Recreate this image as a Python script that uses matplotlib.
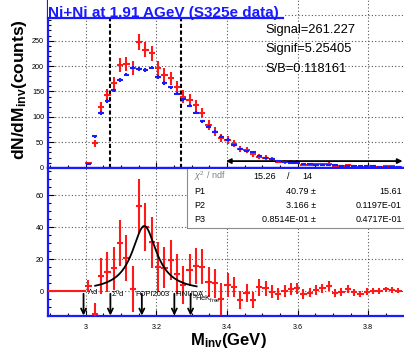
import numpy as np
import matplotlib.pyplot as plt
from matplotlib.lines import Line2D
from matplotlib.patches import Rectangle

plt.rcParams['font.family'] = ['Liberation Sans', 'DejaVu Sans']
plt.rcParams['mathtext.fontset'] = 'custom'
plt.rcParams['mathtext.rm'] = 'Liberation Sans'
plt.rcParams['mathtext.it'] = 'Liberation Sans:italic'
plt.rcParams['mathtext.bf'] = 'Liberation Sans:bold'

# binning (GeV)
bin_start = 2.999
bin_width = 0.0179
n_bins = 50

# upper panel: same-event (red) and mixed-event background (blue)
red = [8.6, 48, 119, 143, 166, 202, 204, 196, 248, 232,
       225, 196, 183, 176, 158, 140, 133, 123, 107, 84,
       71, 58, 55, 47, 36, 34, 26, 22, 20, 17,
       12, 11, 11, 11, 6, 6, 7, 7, 8, 3.5,
       4, 5, 3, 1.5, 2.5, 2.7, 2.3, 3.2, 2.8, 2.2]
red_err = [3, 7, 11, 12, 13, 14, 14, 14, 16, 15,
           15, 14, 13.5, 13, 12.5, 12, 11.5, 11, 10, 9,
           8.5, 7.5, 7.4, 6.8, 6, 5.8, 5.1, 4.7, 4.4, 4.1,
           3.4, 3.3, 3.4, 3.3, 2.4, 2.4, 2.6, 2.7, 2.9, 1.8,
           2, 2.2, 1.6, 1.1, 1.6, 1.6, 1.5, 1.8, 1.7, 1.5]
blue = [7.9, 62, 108, 131, 152, 173, 183, 197, 194, 192,
        197, 179, 167, 158, 146, 135, 122, 108, 91, 81,
        71, 61, 55, 45, 36, 33, 30, 23, 20, 17,
        13, 11, 10, 9, 7.5, 6.5, 6, 5.5, 5, 4.5,
        4, 3.5, 3.2, 3, 2.7, 2.5, 2.3, 2, 2, 1.8]
blue_err = [1.5, 3, 3.5, 3.5, 3.5, 3.5, 3.5, 3.5, 3.5, 3.5,
            3.5, 3.5, 3.5, 3.5, 3, 3, 3, 3, 3, 3,
            2.5, 2.5, 2.5, 2.5, 2, 2, 2, 2, 2, 2,
            1.5, 1.5, 1.5, 1.5, 1.5, 1.5, 1.5, 1.5, 1.5, 1.5,
            1, 1, 1, 1, 1, 1, 1, 1, 1, 1]

# lower panel: background-subtracted signal
signal = [3.5, -14, 9.6, 12, 14.4, 30, 20.8, 1.4, 53.3, 40.4,
          30.6, 15, 14.8, 19.6, 11, 4, 13.3, 15.8, 15.4, 6,
          5, -5, 4, 2.9, -5.4, -0.9, -5.4, 2.5, 1.9, -0.2,
          -1.7, 0.2, 1.4, 1.9, -1.7, -0.8, 0.8, 1.9, 3.3, -1.2,
          -0.2, 1.4, -0.6, -1.7, -0.2, 0.2, 0, 1.2, 0.8, 0.4]
signal_err = [3.6, 6.5, 11, 12.7, 13.5, 14.4, 14.6, 14.3, 16.7, 15,
              16, 15.6, 13, 12.5, 12.5, 12, 10, 11, 11, 9.4,
              8.9, 10, 7.3, 6.3, 5.7, 5.7, 4.7, 5.2, 4.7, 4.2,
              3.6, 3.6, 3.6, 3.6, 3.1, 3, 3, 3, 2.9, 2.5,
              2.5, 2.5, 2.3, 2, 2, 1.8, 1.8, 1.8, 1.7, 1.6]

# fit result (Breit-Wigner)
fit_p1, fit_p2, fit_p3 = 40.79, 3.166, 0.08514
fit_range = (3.027, 3.314)

# markers for predicted masses
arrow_x = [2.994, 3.070, 3.159, 3.251, 3.297]
arrow_labels = [r'$\Lambda$d', r'$\Sigma^0$d', 'FOPI2003', 'FINUDA', r'$^3$HeK$_{\rm free}$']
label_x = [3.003, 3.071, 3.1395, 3.253, 3.300]
label_y = [0, -1.7, -1.7, -1.7, -4.6]

W, H = 404, 351
BLUE = '#1a1aff'
RED = '#ff1a1a'
xlim = (2.892, 3.901)

centers = bin_start + bin_width * (np.arange(n_bins) + 0.5)

fig = plt.figure(figsize=(W / 100, H / 100), dpi=100)
ax_top = fig.add_axes([47.5 / W, 1 - 167.7 / H, 1 - 47.5 / W, 167.7 / H])
ax_bot = fig.add_axes([47.5 / W, 1 - 315.7 / H, 1 - 47.5 / W, (315.7 - 168) / H])

grid_kw = dict(color='#555555', linestyle=(0, (1, 2)), linewidth=0.8)
for ax in (ax_top, ax_bot):
    ax.set_xlim(*xlim)
    ax.set_xticks([3.0, 3.2, 3.4, 3.6, 3.8])
    ax.set_xticks(np.arange(2.9, 3.91, 0.05), minor=True)
    ax.grid(True, which='major', **grid_kw)
    ax.set_axisbelow(True)
    ax.tick_params(which='major', direction='in', length=4, width=0.8, labelsize=5.2, pad=2.5)
    ax.tick_params(which='minor', direction='in', length=2, width=0.8)
    for s in ('left', 'bottom'):
        ax.spines[s].set_color(BLUE)
        ax.spines[s].set_linewidth(1.6)
    ax.spines['right'].set_visible(False)

ax_top.spines['top'].set_visible(False)
ax_bot.spines['top'].set_color(BLUE)
ax_bot.spines['top'].set_linewidth(1.6)

# upper panel
ax_top.set_ylim(0, 330)
ax_top.set_yticks([0, 50, 100, 150, 200, 250, 300])
ax_top.set_yticklabels(['0', '50', '100', '150', '200', '250', ''])
ax_top.set_yticks(np.arange(0, 330, 10), minor=True)
ax_top.tick_params(axis='x', labelbottom=False)
ax_top.errorbar(centers, red, xerr=bin_width / 2, yerr=red_err, fmt='none',
                ecolor=RED, elinewidth=1.5, zorder=3)
ax_top.errorbar(centers, blue, xerr=bin_width / 2 * 0.85, yerr=blue_err, fmt='none',
                ecolor=BLUE, elinewidth=1.5, zorder=4)
for xv in (3.07, 3.27):
    ax_top.axvline(xv, color='black', linestyle=(0, (2, 1.2)), linewidth=1.5, zorder=2)
ax_top.annotate('', xy=(3.397, 13), xytext=(3.897, 13),
                arrowprops=dict(arrowstyle='<|-|>', color='black', lw=1.3,
                                shrinkA=0, shrinkB=0, mutation_scale=7))

# title box (white, covers the grid and dashed lines)
tx1 = (283 - 47.5) / 356.5
ty0 = (167.7 - 18) / 167.7
ax_top.add_patch(Rectangle((0, ty0), tx1, 1.05 - ty0, transform=ax_top.transAxes,
                           facecolor='white', edgecolor='none', zorder=6, clip_on=False))

# lower panel
ax_bot.set_ylim(-15.2, 77)
ax_bot.set_yticks([0, 20, 40, 60])
ax_bot.set_yticks(np.arange(-15, 77, 5), minor=True)
ax_bot.set_xticklabels(['3', '3.2', '3.4', '3.6', '3.8'])
ax_bot.tick_params(axis='x', pad=6)
ax_bot.plot([xlim[0], bin_start], [0, 0], color=RED, lw=1.5, zorder=3)
ax_bot.errorbar(centers, signal, xerr=bin_width / 2, yerr=signal_err, fmt='none',
                ecolor=RED, elinewidth=1.5, zorder=3)
xf = np.linspace(fit_range[0], fit_range[1], 200)
half = fit_p3 / 2
ax_bot.plot(xf, fit_p1 * half ** 2 / ((xf - fit_p2) ** 2 + half ** 2), color='black', lw=1.3, zorder=5)
for xa, lab, lx, ly in zip(arrow_x, arrow_labels, label_x, label_y):
    ax_bot.annotate('', xy=(xa, -15.1), xytext=(xa, -1.5),
                    arrowprops=dict(arrowstyle='->', color='black', lw=1.3,
                                    shrinkA=0, shrinkB=0, mutation_scale=9), zorder=6)
    ax_bot.text(lx, ly, lab, fontsize=5.4, ha='left', va='center', zorder=6)

# fit statistics box
bx0 = (186.5 - 47.5) / 356.5
by0 = (315.7 - 228) / 147.7
ax_bot.add_patch(Rectangle((bx0, by0), 1 - bx0, 0.99 - by0, transform=ax_bot.transAxes,
                           facecolor='white', edgecolor='none', zorder=4))
ax_bot.plot([bx0, bx0, 1], [0.99, by0, by0], transform=ax_bot.transAxes,
            color='#8c8c8c', lw=0.8, zorder=4)


def ftext(x, y, s, **kw):
    fig.text(x / W, 1 - y / H, s, **kw)


ftext(194, 176.5, r'$\chi^2$ / ndf', fontsize=6.5, color='#808080', va='center', zorder=7)
ftext(276, 176.5, '15.26', fontsize=6.5, ha='right', va='center', zorder=7)
ftext(288.5, 176.5, '/', fontsize=6.5, ha='center', va='center', zorder=7)
ftext(302, 176.5, '14', fontsize=6.5, ha='left', va='center', zorder=7)
rows = [('P1', '40.79 \u00b1', '15.61', 191.5),
        ('P2', '3.166 \u00b1', '0.1197E-01', 205.5),
        ('P3', '0.8514E-01 \u00b1', '0.4717E-01', 220)]
for name, val, err, yy in rows:
    ftext(194, yy, name, fontsize=6.5, va='center', zorder=7)
    ftext(316, yy, val, fontsize=6.5, ha='right', va='center', zorder=7)
    ftext(402, yy, err, fontsize=6.5, ha='right', va='center', zorder=7)

# signal summary
ftext(265, 30, 'Signal=261.227', fontsize=9.3, va='center')
ftext(265, 49.3, 'Signif=5.25405', fontsize=9.3, va='center')
ftext(265, 69, 'S/B=0.118161', fontsize=9.3, va='center')

# title and axis labels
ftext(47.5, 16.5, 'Ni+Ni at 1.91 AGeV (S325e data)', fontsize=11, fontweight='bold',
      color=BLUE, va='baseline', zorder=8)
fig.add_artist(Line2D([47.5 / W, 283 / W], [1 - 18 / H, 1 - 18 / H], color=BLUE, lw=1.6, zorder=8))
ftext(19.5, 90, r'dN/dM$_{\mathbf{inv}}$(counts)', fontsize=12.5, fontweight='bold',
      rotation=90, ha='center', va='center')
ftext(228, 345, r'M$_{\mathbf{inv}}$(GeV)', fontsize=12, fontweight='bold',
      ha='center', va='baseline')

fig.savefig('out.png', dpi=100)
